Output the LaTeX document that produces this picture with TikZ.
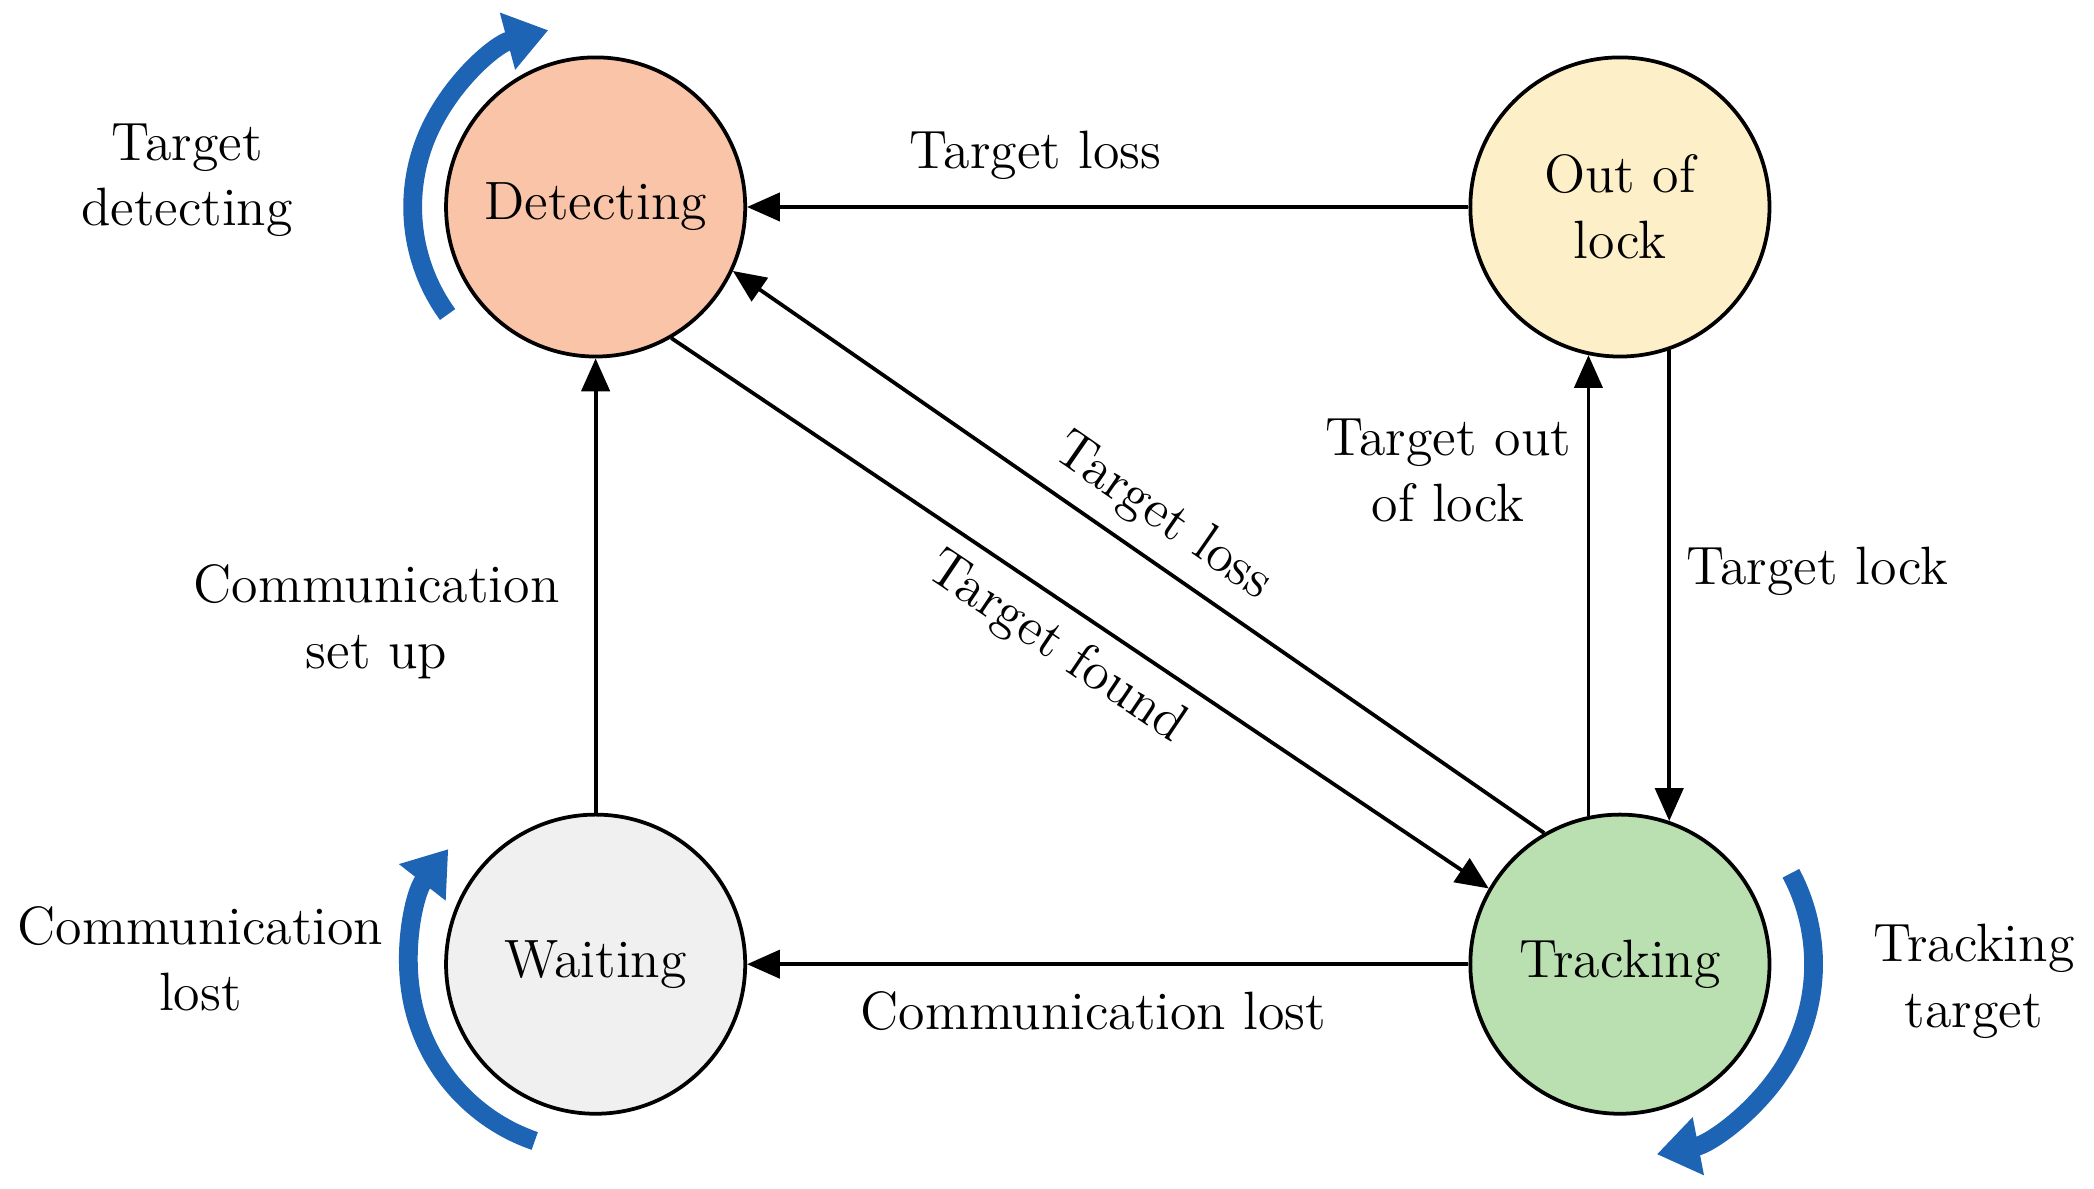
\documentclass[tikz,border=0pt]{standalone}
\usetikzlibrary{arrows.meta}
\definecolor{detfill}{RGB}{249,196,168}
\definecolor{outfill}{RGB}{253,240,200}
\definecolor{waitfill}{RGB}{240,240,240}
\definecolor{trackfill}{RGB}{186,224,177}
\definecolor{loopblue}{RGB}{30,100,180}
\tikzset{
  state/.style={circle, draw, thick, minimum size=2.24cm, align=center, font=\fontsize{11.5}{14}\selectfont},
  trans/.style={-{Triangle[length=7pt,width=6pt]}, thick},
  lab/.style={align=center, font=\fontsize{11.5}{14}\selectfont},
  selfloop/.style={loopblue, line width=4pt, -{Triangle[length=9pt,width=12pt]}}
}
\begin{document}
\begin{tikzpicture}
        \useasboundingbox (0,0) rectangle (15.68,8.9);
        \node [state, fill=detfill] (detect) at (4.46,7.35) {Detecting};
        \node [state, fill=outfill] (outlock) at (12.13,7.35) {Out of\\lock};
        \node [state, fill=waitfill] (wait) at (4.46,1.68) {Waiting};
        \node [state, fill=trackfill] (track) at (12.13,1.68) {Tracking};
        % transitions
        \draw [trans] (outlock) -- node[lab, above=2pt, pos=0.6] {Target loss} (detect);
        \draw [trans] (detect.-60) -- node[lab, sloped, below, pos=0.5] {Target found} (track.150);
        \draw [trans] (track.120) -- node[lab, sloped, above, pos=0.5] {Target loss} (detect.-25);
        \draw [trans] (track.102) -- node[lab, left, pos=0.75] {Target out\\of lock} (outlock.-102);
        \draw [trans] (outlock.-71) -- node[lab, right, pos=0.47] {Target lock} (track.71);
        \draw [trans] (wait) -- node[lab, left=4pt, pos=0.42] {Communication\\set up} (detect);
        \draw [trans] (track) -- node[lab, below=2pt, pos=0.52] {Communication lost} (wait);
        % self loops
        \draw [selfloop] ([shift={(216:1.37)}]detect.center) arc (216:105:1.37);
        \draw [selfloop] ([shift={(251:1.4)}]wait.center) arc (251:142:1.4);
        \draw [selfloop] ([shift={(28:1.45)}]track.center) arc (28:-79:1.45);
        \node [lab] (detlab) at (1.4,7.55) {Target\\detecting};
        \node [lab] (waitlab) at (1.5,1.72) {Communication\\lost};
        \node [lab] (tracklab) at (14.78,1.55) {Tracking\\target};
\end{tikzpicture}
\end{document}
